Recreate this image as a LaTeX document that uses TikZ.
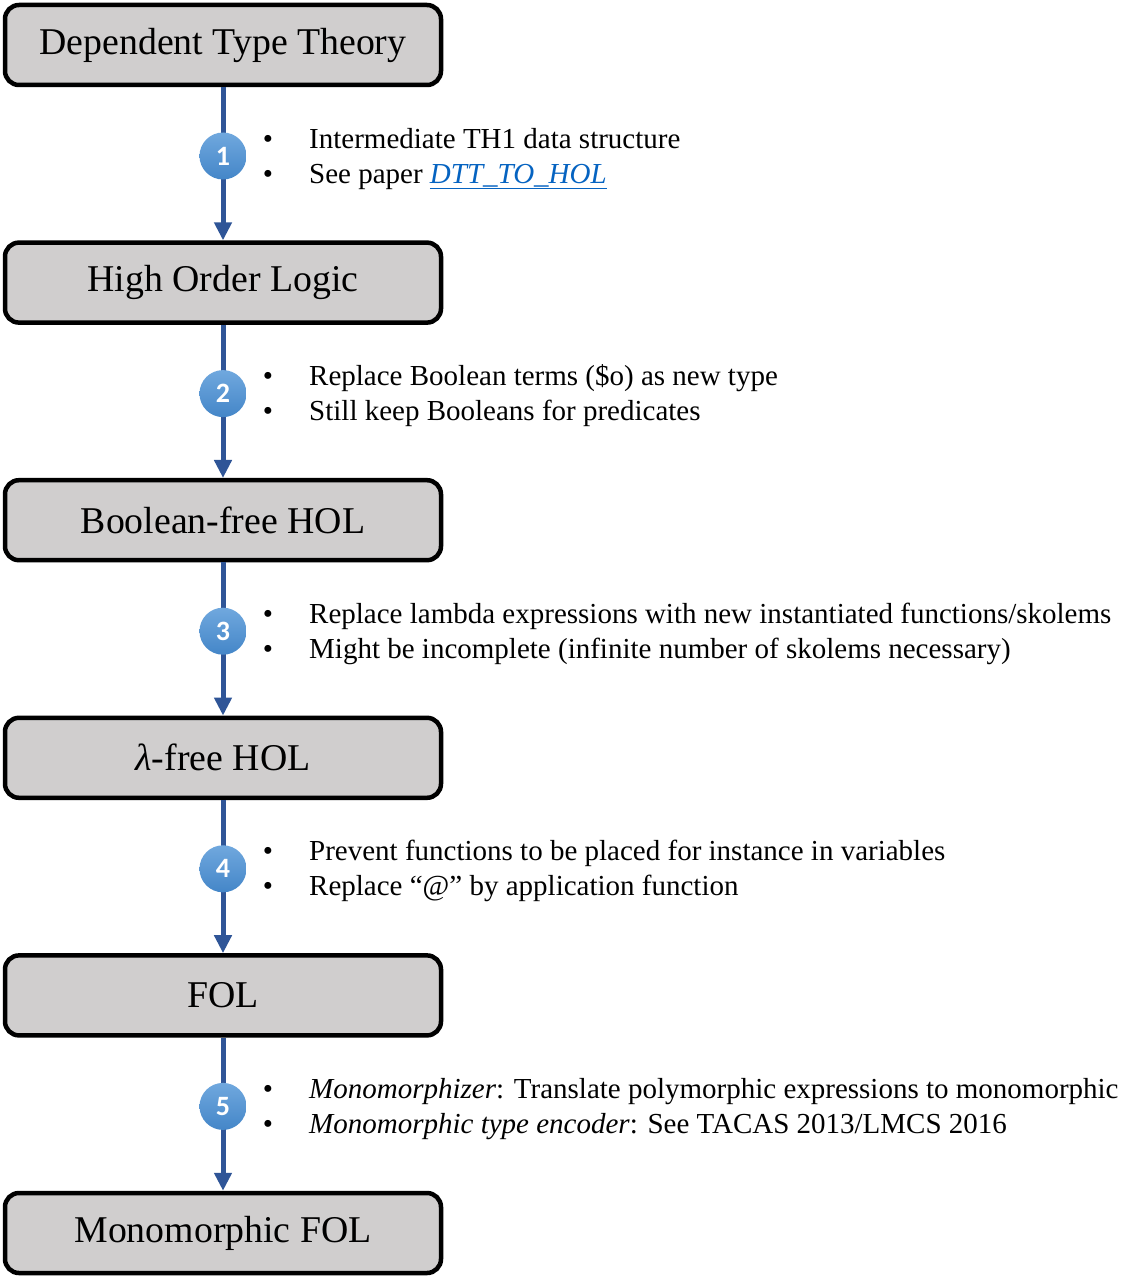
\documentclass[tikz,border=0pt]{standalone}
\usepackage{fontspec}
\setmainfont{Liberation Serif}
\newfontfamily\numfont{Carlito}
\usetikzlibrary{arrows.meta}
\definecolor{boxfill}{RGB}{208,206,206}
\definecolor{arrowblue}{RGB}{47,85,151}
\definecolor{circtop}{RGB}{112,168,222}
\definecolor{circbot}{RGB}{68,134,200}
\definecolor{linkblue}{RGB}{5,99,193}
\begin{document}
\begin{tikzpicture}[x=1pt,y=-1pt,
  stagebox/.style={draw=black, line width=4.5pt, fill=boxfill, rounded corners=14pt,
    minimum width=436pt, minimum height=80pt, inner sep=0pt,
    font=\fontsize{37.8}{42}\selectfont},
  flow/.style={draw=arrowblue, line width=5pt, -{Triangle[width=17pt,length=18pt]}},
  numcirc/.style={circle, minimum size=47pt, inner sep=0pt, top color=circtop,
    bottom color=circbot, text=white, font=\numfont\bfseries\fontsize{28}{28}\selectfont},
  bul/.style={anchor=base, font=\fontsize{29}{32}\selectfont, inner sep=0pt},
  itemtext/.style={anchor=base west, font=\fontsize{29}{32}\selectfont, inner sep=0pt}
]
\useasboundingbox (0,0) rectangle (1145,1279);
\fill[white] (0,0) rectangle (1145,1279);

\node[stagebox] (s1) at (223,45) {Dependent Type Theory};
\node[stagebox] (s2) at (223,282.6) {High Order Logic};
\node[stagebox] (s3) at (223,520.2) {Boolean-free HOL};
\node[stagebox] (s4) at (223,757.8) {{\itshape λ}-free HOL};
\node[stagebox] (s5) at (223,995.4) {FOL};
\node[stagebox] (s6) at (223,1233) {Monomorphic FOL};

\draw[flow] (s1.south) -- (s2.north);
\draw[flow] (s2.south) -- (s3.north);
\draw[flow] (s3.south) -- (s4.north);
\draw[flow] (s4.south) -- (s5.north);
\draw[flow] (s5.south) -- (s6.north);

\node[numcirc] (c1) at (223,156) {1};
\node[numcirc] (c2) at (223,393.6) {2};
\node[numcirc] (c3) at (223,631.2) {3};
\node[numcirc] (c4) at (223,868.8) {4};
\node[numcirc] (c5) at (223,1106.4) {5};

% step 1
\node[bul] (b1a) at (268,148) {\textbullet};
\node[itemtext] (t1a) at (309,148) {Intermediate TH1 data structure};
\node[bul] (b1b) at (268,183) {\textbullet};
\node[itemtext] (t1b) at (309,183) {See paper \textcolor{linkblue}{\itshape\underline{DTT\_TO\_HOL}}};
% step 2
\node[bul] (b2a) at (268,385.6) {\textbullet};
\node[itemtext] (t2a) at (309,385.6) {Replace Boolean terms (\$o) as new type};
\node[bul] (b2b) at (268,420.6) {\textbullet};
\node[itemtext] (t2b) at (309,420.6) {Still keep Booleans for predicates};
% step 3
\node[bul] (b3a) at (268,623.2) {\textbullet};
\node[itemtext] (t3a) at (309,623.2) {Replace lambda expressions with new instantiated functions/skolems};
\node[bul] (b3b) at (268,658.2) {\textbullet};
\node[itemtext] (t3b) at (309,658.2) {Might be incomplete (infinite number of skolems necessary)};
% step 4
\node[bul] (b4a) at (268,860.8) {\textbullet};
\node[itemtext] (t4a) at (309,860.8) {Prevent functions to be placed for instance in variables};
\node[bul] (b4b) at (268,895.8) {\textbullet};
\node[itemtext] (t4b) at (309,895.8) {Replace “@” by application function};
% step 5
\node[bul] (b5a) at (268,1098.4) {\textbullet};
\node[itemtext] (t5a) at (309,1098.4) {\textit{Monomorphizer}: Translate polymorphic expressions to monomorphic};
\node[bul] (b5b) at (268,1133.4) {\textbullet};
\node[itemtext] (t5b) at (309,1133.4) {\textit{Monomorphic type encoder}: See TACAS 2013/LMCS 2016};
\end{tikzpicture}
\end{document}
